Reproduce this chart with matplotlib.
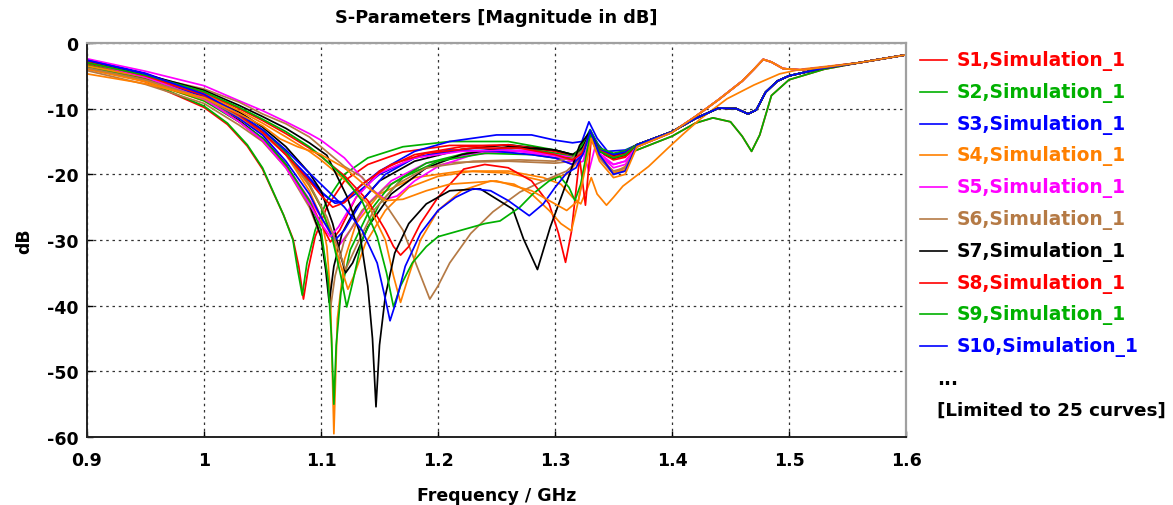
import matplotlib.pyplot as plt
from matplotlib.lines import Line2D

plt.rcParams["axes.unicode_minus"] = False

# ---- colours (CST default curve cycle) ----
RED = "#ff0000"
GREEN = "#00b000"
BLUE = "#0000ff"
ORANGE = "#ff8000"
MAGENTA = "#ff00ff"
BROWN = "#b57a45"
BLACK = "#000000"

# ---- shared right-hand tails (f > 1.36 GHz) ----
TAIL_A_F = [1.37, 1.40, 1.42, 1.44, 1.46, 1.47, 1.478, 1.485, 1.495, 1.51, 1.53, 1.56, 1.60]
TAIL_A_DB = [-15.8, -13.6, -11.2, -8.6, -5.8, -4.0, -2.5, -2.9, -3.9, -4.1, -3.7, -3.0, -1.8]

TAIL_B_F = [1.37, 1.40, 1.42, 1.44, 1.455, 1.465, 1.472, 1.48, 1.49, 1.50, 1.53, 1.56, 1.60]
TAIL_B_DB = [-15.5, -13.5, -11.5, -9.9, -10.0, -10.8, -10.2, -7.5, -5.8, -5.0, -3.8, -3.0, -1.8]

TAIL_C_F = [1.37, 1.40, 1.42, 1.435, 1.45, 1.46, 1.468, 1.475, 1.485, 1.50, 1.53, 1.56, 1.60]
TAIL_C_DB = [-16.3, -14.2, -12.2, -11.4, -12.0, -14.2, -16.5, -14.0, -8.0, -5.6, -4.0, -3.0, -1.8]

TAIL_D_F = [1.38, 1.396, 1.41, 1.424, 1.447, 1.47, 1.492, 1.51, 1.53, 1.56, 1.60]
TAIL_D_DB = [-18.8, -16.1, -13.8, -11.6, -8.5, -6.4, -4.7, -4.0, -3.6, -3.0, -1.8]

# ---- per-curve points up to ~1.36 GHz ----
S1_F = [0.90, 0.95, 1.00, 1.02, 1.037, 1.05, 1.059, 1.068, 1.076, 1.081, 1.085, 1.089, 1.095, 1.105, 1.12, 1.14, 1.17, 1.21, 1.26, 1.30, 1.32, 1.33, 1.34, 1.35, 1.36]
S1_DB = [-3.5, -5.9, -9.8, -12.4, -15.7, -19.2, -22.7, -26.2, -29.8, -34.0, -39.0, -34.5, -29.5, -25.0, -21.0, -18.5, -16.6, -15.6, -15.6, -16.8, -18.0, -14.0, -16.6, -17.6, -17.2]

S2_F = [0.90, 0.95, 1.00, 1.02, 1.037, 1.05, 1.059, 1.068, 1.076, 1.080, 1.084, 1.088, 1.095, 1.105, 1.12, 1.14, 1.17, 1.21, 1.26, 1.30, 1.32, 1.33, 1.34, 1.35, 1.36]
S2_DB = [-3.3, -5.8, -9.6, -12.2, -15.5, -19.0, -22.6, -26.2, -30.0, -34.5, -38.4, -33.5, -28.5, -24.0, -20.0, -17.5, -15.8, -15.0, -15.0, -16.3, -17.2, -13.7, -16.2, -17.2, -16.8]

S3_F = [0.90, 0.95, 1.00, 1.03, 1.05, 1.07, 1.09, 1.10, 1.109, 1.118, 1.13, 1.15, 1.18, 1.21, 1.25, 1.28, 1.30, 1.315, 1.323, 1.329, 1.336, 1.345, 1.36]
S3_DB = [-2.5, -4.6, -7.8, -10.8, -13.4, -16.8, -20.5, -22.6, -24.0, -24.2, -22.3, -19.5, -16.5, -15.0, -14.0, -14.0, -14.8, -15.2, -15.0, -12.0, -14.5, -16.5, -16.3]

S4_F = [0.90, 0.95, 1.00, 1.03, 1.05, 1.07, 1.09, 1.10, 1.105, 1.108, 1.111, 1.114, 1.12, 1.13, 1.15, 1.18, 1.22, 1.26, 1.29, 1.31, 1.322, 1.33, 1.338, 1.35, 1.36]
S4_DB = [-4.0, -5.9, -8.8, -11.5, -13.6, -17.0, -22.5, -26.5, -31.0, -38.0, -59.5, -42.0, -33.0, -27.5, -23.0, -20.5, -19.5, -19.8, -21.0, -20.0, -17.5, -13.8, -17.0, -19.8, -18.8]

S5_F = [0.90, 0.95, 1.00, 1.03, 1.05, 1.07, 1.09, 1.10, 1.108, 1.116, 1.125, 1.14, 1.16, 1.19, 1.23, 1.27, 1.30, 1.315, 1.324, 1.33, 1.338, 1.35, 1.36]
S5_DB = [-2.8, -4.8, -8.0, -11.3, -14.0, -18.5, -23.8, -26.5, -29.0, -30.7, -28.5, -24.5, -21.0, -18.3, -16.8, -16.5, -17.5, -18.5, -18.0, -14.5, -17.0, -19.0, -18.5]

S6_F = [0.90, 0.95, 1.00, 1.03, 1.05, 1.07, 1.09, 1.10, 1.105, 1.108, 1.112, 1.12, 1.135, 1.155, 1.18, 1.21, 1.26, 1.30, 1.315, 1.323, 1.33, 1.338, 1.35, 1.36]
S6_DB = [-4.2, -6.3, -9.2, -12.5, -15.0, -19.0, -25.0, -29.5, -35.0, -40.5, -35.5, -30.0, -25.5, -22.0, -19.5, -18.2, -18.0, -18.3, -18.0, -16.5, -13.8, -17.5, -19.8, -19.0]

S7_F = [0.90, 0.95, 1.00, 1.03, 1.05, 1.07, 1.09, 1.10, 1.104, 1.107, 1.111, 1.118, 1.13, 1.15, 1.18, 1.22, 1.26, 1.30, 1.315, 1.323, 1.33, 1.338, 1.35, 1.36]
S7_DB = [-3.2, -5.4, -8.4, -11.8, -14.5, -18.5, -24.5, -29.5, -34.5, -39.5, -34.0, -29.0, -25.0, -21.0, -18.0, -16.2, -15.5, -16.3, -17.0, -16.5, -13.6, -16.0, -17.0, -16.6]

S8_F = [0.90, 0.95, 1.00, 1.03, 1.05, 1.07, 1.09, 1.10, 1.108, 1.116, 1.13, 1.15, 1.18, 1.22, 1.26, 1.30, 1.315, 1.323, 1.33, 1.338, 1.35, 1.36]
S8_DB = [-3.2, -5.4, -8.6, -12.0, -14.8, -18.8, -24.0, -27.5, -30.3, -28.5, -23.5, -19.5, -17.0, -15.8, -15.5, -16.5, -17.3, -16.5, -13.8, -16.3, -17.2, -16.8]

S9_F = [0.90, 0.95, 1.00, 1.03, 1.05, 1.07, 1.09, 1.10, 1.106, 1.109, 1.111, 1.113, 1.117, 1.125, 1.14, 1.16, 1.19, 1.23, 1.27, 1.30, 1.315, 1.323, 1.33, 1.338, 1.35, 1.36]
S9_DB = [-3.6, -5.7, -8.8, -12.0, -14.5, -18.5, -24.0, -28.5, -36.0, -45.0, -55.0, -46.0, -38.0, -31.5, -26.0, -21.5, -18.3, -16.5, -16.0, -16.8, -17.3, -16.0, -13.6, -16.2, -17.0, -16.6]

S10_F = [0.90, 0.95, 1.00, 1.03, 1.05, 1.07, 1.09, 1.10, 1.112, 1.12, 1.133, 1.15, 1.18, 1.21, 1.25, 1.28, 1.30, 1.315, 1.323, 1.33, 1.337, 1.345, 1.36]
S10_DB = [-2.7, -4.8, -8.0, -11.0, -13.6, -17.0, -20.8, -22.8, -24.4, -24.2, -22.5, -20.0, -17.5, -16.5, -16.3, -16.5, -17.0, -17.8, -16.5, -13.2, -15.5, -17.0, -16.8]

S11_F = [0.90, 0.95, 1.00, 1.03, 1.05, 1.07, 1.09, 1.10, 1.11, 1.117, 1.123, 1.128, 1.138, 1.155, 1.175, 1.20, 1.23, 1.26, 1.29, 1.305, 1.315, 1.322, 1.328, 1.331, 1.336, 1.344, 1.35, 1.358]
S11_DB = [-3.9, -5.8, -8.6, -11.5, -13.8, -17.0, -21.8, -25.0, -29.5, -34.0, -37.5, -35.5, -30.5, -25.5, -22.0, -20.3, -19.5, -19.5, -20.5, -21.5, -23.5, -24.5, -22.0, -20.5, -23.0, -24.7, -23.5, -21.8]

S12_F = [0.90, 0.95, 1.00, 1.03, 1.05, 1.07, 1.09, 1.10, 1.12, 1.135, 1.145, 1.155, 1.165, 1.18, 1.20, 1.23, 1.27, 1.30, 1.318, 1.324, 1.329, 1.334, 1.34, 1.35, 1.36]
S12_DB = [-2.4, -4.3, -6.5, -8.8, -10.3, -12.0, -13.8, -14.8, -17.5, -20.5, -22.5, -23.8, -23.3, -21.0, -18.8, -17.0, -16.3, -17.0, -17.5, -16.5, -19.5, -16.0, -17.5, -18.5, -18.0]

S13_F = [0.90, 0.95, 1.00, 1.03, 1.05, 1.07, 1.09, 1.10, 1.12, 1.135, 1.156, 1.17, 1.182, 1.193, 1.20, 1.21, 1.228, 1.247, 1.27, 1.29, 1.31, 1.322, 1.33, 1.338, 1.35, 1.36]
S13_DB = [-3.3, -5.0, -7.0, -9.0, -10.8, -12.3, -14.3, -15.8, -18.8, -20.4, -24.8, -28.5, -34.0, -39.0, -37.0, -33.5, -29.0, -25.7, -22.7, -21.0, -19.5, -17.5, -14.0, -17.5, -20.0, -19.5]

S14_F = [0.90, 0.95, 1.00, 1.03, 1.05, 1.07, 1.09, 1.10, 1.11, 1.117, 1.121, 1.127, 1.14, 1.16, 1.19, 1.22, 1.26, 1.30, 1.315, 1.323, 1.33, 1.338, 1.35, 1.36]
S14_DB = [-3.0, -5.0, -7.6, -10.5, -12.8, -15.8, -19.8, -22.5, -27.5, -32.5, -35.0, -33.5, -28.0, -23.0, -19.0, -17.0, -15.8, -16.3, -17.0, -16.0, -13.7, -16.5, -17.2, -16.8]

S15_F = [0.90, 0.95, 1.00, 1.03, 1.05, 1.07, 1.09, 1.10, 1.12, 1.14, 1.155, 1.162, 1.168, 1.175, 1.185, 1.20, 1.222, 1.24, 1.26, 1.28, 1.295, 1.303, 1.309, 1.314, 1.321, 1.326, 1.331, 1.336, 1.342, 1.35, 1.36]
S15_DB = [-3.1, -5.0, -7.6, -10.0, -11.8, -13.8, -16.0, -17.3, -20.2, -24.0, -28.5, -31.0, -32.3, -31.0, -27.5, -23.5, -19.2, -18.5, -19.0, -21.0, -24.5, -29.0, -33.4, -28.8, -17.5, -24.7, -14.5, -15.5, -17.0, -17.8, -17.4]

S16_F = [0.90, 0.95, 1.00, 1.03, 1.05, 1.07, 1.09, 1.10, 1.11, 1.117, 1.122, 1.127, 1.135, 1.15, 1.17, 1.20, 1.24, 1.28, 1.30, 1.315, 1.323, 1.33, 1.338, 1.35, 1.36]
S16_DB = [-3.4, -5.3, -8.2, -11.0, -13.2, -16.5, -21.5, -25.0, -30.0, -35.5, -40.2, -36.5, -30.0, -24.5, -20.5, -18.0, -16.8, -17.0, -17.5, -17.5, -15.5, -13.2, -16.0, -16.8, -16.4]

S17_F = [0.90, 0.95, 1.00, 1.03, 1.05, 1.07, 1.09, 1.10, 1.112, 1.12, 1.135, 1.155, 1.18, 1.21, 1.25, 1.28, 1.30, 1.315, 1.323, 1.33, 1.338, 1.35, 1.36]
S17_DB = [-2.8, -5.0, -8.2, -11.5, -14.0, -18.0, -23.0, -26.5, -30.0, -28.5, -24.0, -20.0, -17.5, -16.3, -16.5, -17.0, -17.5, -18.5, -17.0, -13.5, -16.3, -17.0, -16.6]

S18_F = [0.90, 0.95, 1.00, 1.03, 1.05, 1.07, 1.09, 1.10, 1.12, 1.14, 1.155, 1.162, 1.168, 1.174, 1.185, 1.20, 1.22, 1.245, 1.265, 1.28, 1.295, 1.305, 1.314, 1.32, 1.326, 1.331, 1.338, 1.35, 1.36]
S18_DB = [-3.5, -5.2, -7.8, -10.3, -12.2, -14.3, -16.5, -17.8, -20.8, -24.5, -30.0, -35.5, -39.5, -36.0, -30.0, -25.5, -22.5, -21.0, -21.5, -23.0, -25.5, -27.5, -28.6, -24.0, -18.0, -13.8, -17.0, -19.8, -19.3]

S19_F = [0.90, 0.95, 1.00, 1.03, 1.05, 1.07, 1.09, 1.10, 1.108, 1.115, 1.13, 1.15, 1.18, 1.22, 1.26, 1.30, 1.315, 1.323, 1.33, 1.338, 1.35, 1.36]
S19_DB = [-2.9, -5.2, -8.5, -12.0, -14.8, -19.0, -24.5, -27.5, -29.5, -28.0, -23.5, -19.8, -17.5, -16.5, -16.3, -17.2, -18.0, -16.8, -14.2, -16.8, -18.5, -18.0]

S20_F = [0.90, 0.95, 1.00, 1.03, 1.05, 1.07, 1.09, 1.105, 1.115, 1.121, 1.13, 1.145, 1.165, 1.19, 1.23, 1.27, 1.30, 1.315, 1.323, 1.33, 1.338, 1.35, 1.36]
S20_DB = [-3.8, -5.6, -8.4, -11.2, -13.5, -17.0, -21.5, -26.5, -31.5, -34.5, -31.0, -25.5, -21.5, -19.0, -18.0, -17.8, -18.0, -17.5, -16.5, -14.0, -17.5, -19.5, -19.0]

S21_F = [0.90, 0.95, 1.00, 1.03, 1.05, 1.07, 1.09, 1.105, 1.122, 1.133, 1.140, 1.144, 1.147, 1.150, 1.155, 1.163, 1.175, 1.19, 1.21, 1.236, 1.264, 1.273, 1.285, 1.296, 1.31, 1.321, 1.33, 1.338, 1.35, 1.36]
S21_DB = [-2.9, -4.8, -7.2, -9.5, -11.2, -13.0, -15.2, -17.1, -23.3, -28.8, -37.0, -45.0, -55.4, -46.0, -38.5, -32.0, -27.5, -24.5, -22.5, -22.2, -25.3, -29.8, -34.5, -28.0, -21.2, -15.6, -13.5, -16.5, -17.5, -17.0]

S22_F = [0.90, 0.95, 1.00, 1.03, 1.05, 1.07, 1.09, 1.10, 1.11, 1.12, 1.135, 1.16, 1.19, 1.23, 1.27, 1.30, 1.315, 1.323, 1.33, 1.338, 1.35, 1.36]
S22_DB = [-2.9, -5.0, -8.0, -11.0, -13.6, -17.0, -21.0, -23.2, -25.0, -24.3, -21.5, -18.5, -16.8, -16.0, -16.0, -17.0, -17.8, -16.8, -13.9, -16.4, -17.3, -16.9]

S23_F = [0.90, 0.95, 1.00, 1.03, 1.05, 1.07, 1.09, 1.10, 1.12, 1.135, 1.148, 1.156, 1.162, 1.168, 1.178, 1.19, 1.20, 1.22, 1.24, 1.253, 1.27, 1.281, 1.295, 1.304, 1.312, 1.317, 1.322, 1.33, 1.338, 1.35, 1.36]
S23_DB = [-3.0, -4.9, -7.4, -9.8, -11.6, -13.5, -15.8, -17.2, -20.5, -24.0, -29.5, -35.0, -40.2, -37.0, -33.5, -31.0, -29.5, -28.5, -27.5, -27.1, -25.0, -23.0, -21.0, -20.3, -22.0, -24.0, -21.5, -14.0, -16.5, -17.5, -17.0]

S24_F = [0.90, 0.95, 1.00, 1.03, 1.05, 1.07, 1.09, 1.10, 1.12, 1.135, 1.148, 1.155, 1.159, 1.164, 1.172, 1.185, 1.20, 1.215, 1.23, 1.245, 1.26, 1.278, 1.29, 1.30, 1.31, 1.318, 1.325, 1.33, 1.338, 1.35, 1.36]
S24_DB = [-2.6, -4.7, -7.8, -10.8, -13.2, -16.3, -19.8, -21.5, -25.0, -28.5, -33.5, -39.0, -42.3, -39.5, -34.0, -29.0, -25.5, -23.5, -22.2, -22.5, -24.0, -26.3, -24.5, -22.0, -19.8, -19.0, -16.5, -13.3, -17.0, -20.0, -19.5]

S25_F = [0.90, 0.95, 1.00, 1.03, 1.05, 1.065, 1.08, 1.099, 1.12, 1.14, 1.155, 1.17, 1.19, 1.21, 1.25, 1.28, 1.30, 1.31, 1.32, 1.326, 1.331, 1.338, 1.35, 1.36]
S25_DB = [-4.7, -6.2, -8.3, -10.8, -12.6, -14.6, -15.8, -16.9, -19.0, -22.0, -24.0, -23.8, -22.5, -21.5, -21.0, -22.5, -24.5, -25.5, -24.0, -19.0, -14.5, -18.0, -20.5, -20.0]

CURVES = [
    (S1_F + TAIL_C_F, S1_DB + TAIL_C_DB, RED),
    (S2_F + TAIL_C_F, S2_DB + TAIL_C_DB, GREEN),
    (S3_F + TAIL_B_F, S3_DB + TAIL_B_DB, BLUE),
    (S4_F + TAIL_A_F, S4_DB + TAIL_A_DB, ORANGE),
    (S5_F + TAIL_A_F, S5_DB + TAIL_A_DB, MAGENTA),
    (S6_F + TAIL_A_F, S6_DB + TAIL_A_DB, BROWN),
    (S7_F + TAIL_B_F, S7_DB + TAIL_B_DB, BLACK),
    (S8_F + TAIL_B_F, S8_DB + TAIL_B_DB, RED),
    (S9_F + TAIL_B_F, S9_DB + TAIL_B_DB, GREEN),
    (S10_F + TAIL_B_F, S10_DB + TAIL_B_DB, BLUE),
    (S11_F + TAIL_D_F, S11_DB + TAIL_D_DB, ORANGE),
    (S12_F + TAIL_A_F, S12_DB + TAIL_A_DB, MAGENTA),
    (S13_F + TAIL_A_F, S13_DB + TAIL_A_DB, BROWN),
    (S14_F + TAIL_B_F, S14_DB + TAIL_B_DB, BLACK),
    (S15_F + TAIL_B_F, S15_DB + TAIL_B_DB, RED),
    (S16_F + TAIL_B_F, S16_DB + TAIL_B_DB, GREEN),
    (S17_F + TAIL_B_F, S17_DB + TAIL_B_DB, BLUE),
    (S18_F + TAIL_A_F, S18_DB + TAIL_A_DB, ORANGE),
    (S19_F + TAIL_A_F, S19_DB + TAIL_A_DB, MAGENTA),
    (S20_F + TAIL_A_F, S20_DB + TAIL_A_DB, BROWN),
    (S21_F + TAIL_B_F, S21_DB + TAIL_B_DB, BLACK),
    (S22_F + TAIL_B_F, S22_DB + TAIL_B_DB, RED),
    (S23_F + TAIL_B_F, S23_DB + TAIL_B_DB, GREEN),
    (S24_F + TAIL_B_F, S24_DB + TAIL_B_DB, BLUE),
    (S25_F + TAIL_A_F, S25_DB + TAIL_A_DB, ORANGE),
]

LEGEND_LABELS = [f"S{i},Simulation_1" for i in range(1, 11)]
LEGEND_COLORS = [RED, GREEN, BLUE, ORANGE, MAGENTA, BROWN, BLACK, RED, GREEN, BLUE]

X_TICKS = [0.9, 1.0, 1.1, 1.2, 1.3, 1.4, 1.5, 1.6]
X_TICK_LABELS = ["0.9", "1", "1.1", "1.2", "1.3", "1.4", "1.5", "1.6"]
Y_TICKS = [0, -10, -20, -30, -40, -50, -60]

W, H = 1173, 506
fig = plt.figure(figsize=(W / 100, H / 100), dpi=100)
ax = fig.add_axes([87 / W, 1 - 438 / H, (906 - 87) / W, (438 - 44) / H])

for f, db, c in CURVES:
    ax.plot(f, db, color=c, lw=1.25, solid_joinstyle="round")

ax.set_xlim(0.9, 1.6)
ax.set_ylim(-60, 0)
ax.set_xticks(X_TICKS)
ax.set_xticklabels(X_TICK_LABELS)
ax.set_yticks(Y_TICKS)
ax.grid(True, color="#333333", linestyle=(0, (2, 3)), lw=0.9)
ax.tick_params(direction="in", length=4, width=1, labelsize=12.5)
ax.tick_params(axis="x", pad=10)
ax.tick_params(axis="y", pad=6)
for lbl in ax.get_xticklabels() + ax.get_yticklabels():
    lbl.set_fontweight("bold")
for side in ["left", "bottom"]:
    ax.spines[side].set_linewidth(1.4)
    ax.spines[side].set_color("#222222")
for side in ["top", "right"]:
    ax.spines[side].set_linewidth(1.6)
    ax.spines[side].set_color("#a0a0a0")

ax.set_xlabel("Frequency / GHz", fontsize=12.5, fontweight="bold", labelpad=12)
ax.set_ylabel("dB", fontsize=12.5, fontweight="bold", labelpad=10)
fig.text(496.5 / W, 1 - 18 / H, "S-Parameters [Magnitude in dB]", ha="center", va="center",
         fontsize=12.8, fontweight="bold")

# legend drawn by hand, CST style
for i, (lab, c) in enumerate(zip(LEGEND_LABELS, LEGEND_COLORS)):
    y = 1 - (61 + 31.8 * i) / H
    fig.add_artist(Line2D([920 / W, 947 / W], [y, y], color=c, lw=1.2, transform=fig.transFigure))
    fig.text(957 / W, y, lab, color=c, fontsize=13.4, fontweight="bold", va="center", ha="left")
fig.text(937 / W, 1 - 380 / H, "...", fontsize=13.4, fontweight="bold", va="center", ha="left")
fig.text(937 / W, 1 - 411 / H, "[Limited to 25 curves]", fontsize=13.2, fontweight="bold", va="center", ha="left")

fig.savefig("out.png", dpi=100)
